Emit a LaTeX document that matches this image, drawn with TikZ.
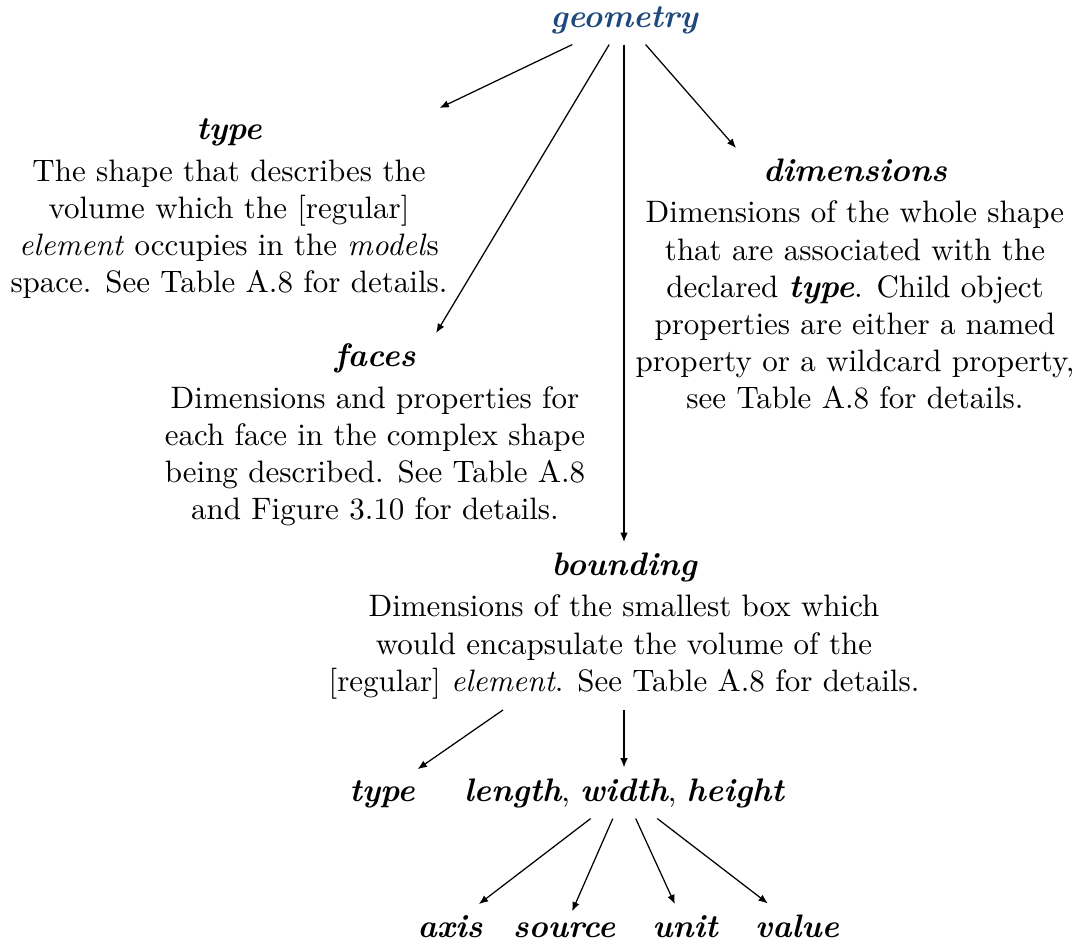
\documentclass[tikz,border=0pt]{standalone}
\usetikzlibrary{arrows.meta}
\definecolor{keyblue}{RGB}{31,73,125}
\newcommand\kw[1]{{\fontsize{10.5}{12}\selectfont\bfseries\itshape #1}}
\begin{document}
\begin{tikzpicture}[x=0.3226pt,y=-0.3226pt,
  block/.style={align=center, anchor=north},
  leaf/.style={anchor=base},
  link/.style={-{Latex[length=3pt,width=2.4pt]}, line width=0.4pt}]
\useasboundingbox (0,0) rectangle (1084,942);

% root
\node[leaf, text=keyblue] (geometry) at (624,27) {\kw{geometry}};

% first level
\node[block] (type) at (229,108) {\kw{type}\\[1.3pt]
  The shape that describes the\\
  volume which the {[regular]}\\
  \emph{element} occupies in the \emph{model}s\\
  space. See Table A.8 for details.};

\node[block] (dims) at (855,148) {\kw{dimensions}\\[1.3pt]
  Dimensions of the whole shape\\
  that are associated with the\\
  declared \kw{type}. Child object\\
  properties are either a named\\
  property or a wildcard property,\\
  see Table A.8 for details.};

\node[block] (faces) at (375,333) {\kw{faces}\\[1.3pt]
  Dimensions and properties for\\
  each face in the complex shape\\
  being described. See Table A.8\\
  and Figure 3.10 for details.};

\node[block] (bounding) at (624,542) {\kw{bounding}\\[1.3pt]
  Dimensions of the smallest box which\\
  would encapsulate the volume of the\\
  {[regular]} \emph{element}. See Table A.8 for details.};

% children of bounding
\node[leaf] (btype) at (382,801) {\kw{type}};
\node[leaf] (lwh) at (624,801) {\kw{length}, \kw{width}, \kw{height}};

% children of length, width, height
\node[leaf] (axis) at (450,937) {\kw{axis}};
\node[leaf] (source) at (564,937) {\kw{source}};
\node[leaf] (unit) at (685,937) {\kw{unit}};
\node[leaf] (value) at (797,937) {\kw{value}};

% connectors
\draw[link] (geometry) -- (type);
\draw[link] (geometry) -- (faces);
\draw[link] (geometry) -- (bounding);
\draw[link] (geometry) -- (dims);
\draw[link] (bounding) -- (btype);
\draw[link] (bounding) -- (lwh);
\draw[link] (lwh) -- (axis);
\draw[link] (lwh) -- (source);
\draw[link] (lwh) -- (unit);
\draw[link] (lwh) -- (value);
\end{tikzpicture}
\end{document}
